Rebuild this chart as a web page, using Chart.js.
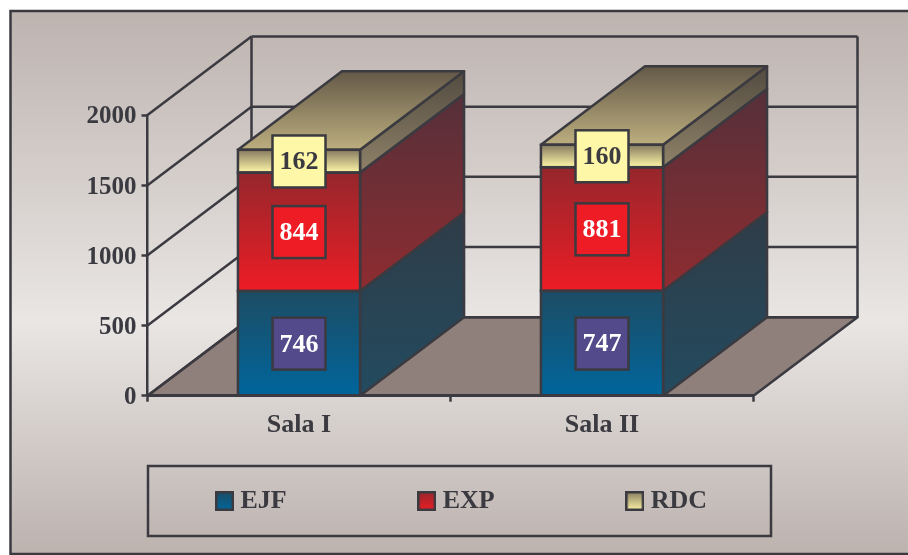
<!DOCTYPE html>
<html><head><meta charset="utf-8">
<style>html,body{margin:0;padding:0;background:#fff}canvas{display:block}</style>
<script src="https://cdn.jsdelivr.net/npm/chart.js@4/dist/chart.umd.js"></script>
</head><body><canvas id="c" width="908" height="555"></canvas>
<script>
const categories = ['Sala I', 'Sala II'];
const ejf = [746, 747];
const exp = [844, 881];
const rdc = [162, 160];
const yTicks = [0, 500, 1000, 1500, 2000];

const INK = '#3a3a40', FONT = '"Liberation Serif"', LW = 2.5, FS = 26;
const DX = 104, DY = -78.5;
const PAL = [
 {front:['#1d4c64','#00669c'], side:['#2f3c47','#234b60'], key:'#1d4c64', box:'#524a8a', text:'#ffffff'},
 {front:['#94272c','#ee1c25'], side:['#55303a','#8e2c30'], key:'#94272c', box:'#ee1c25', text:'#ffffff'},
 {front:['#857a5f','#fff7a8'], side:['#524b40','#8f8268'], key:'#857a5f', box:'#fff7a8', text:INK}
];
function grad(ctx, y0, y1, c){ const g = ctx.createLinearGradient(0,y0,0,y1); g.addColorStop(0,c[0]); g.addColorStop(1,c[1]); return g; }
function swatch(c){ const k=document.createElement('canvas'); k.width=19;k.height=20; const x=k.getContext('2d');
  x.fillStyle=grad(x,0,20,c); x.fillRect(0,0,19,20); x.strokeStyle=INK; x.lineWidth=2.5; x.strokeRect(1.25,1.25,16.5,17.5); return k; }
function poly(ctx, pts, fill){ ctx.beginPath(); pts.forEach((p,i)=>i?ctx.lineTo(p[0],p[1]):ctx.moveTo(p[0],p[1])); ctx.closePath();
  if(fill){ctx.fillStyle=fill;ctx.fill();} ctx.stroke(); }
function line(ctx,a,b,c,d){ ctx.beginPath();ctx.moveTo(a,b);ctx.lineTo(c,d);ctx.stroke(); }

const scene = {
 id:'scene',
 beforeLayout(chart){
  const L = chart.legend;
  if(L && !L._patched){ const f=L.fit; L.fit=function(){ f.call(this); this.height=0; }; L._patched=true; }
 },
 afterLayout(chart){
  const L = chart.legend; const pad = chart.options.plugins.legend.labels.padding;
  L.left = 221.5-pad; L.right = 908; L.top = 488-pad; L.bottom = 540; L.width=L.right-L.left; L.height=L.bottom-L.top;
 },
 beforeDraw(chart){
  const ctx = chart.ctx; ctx.save();
  const g = ctx.createLinearGradient(0,11,0,554);
  g.addColorStop(0,'#bdb3af'); g.addColorStop(0.57,'#e9e6e4'); g.addColorStop(1,'#bcb2ae');
  ctx.fillStyle=g; ctx.strokeStyle=INK; ctx.lineWidth=LW;
  ctx.fillRect(10.5,11,905,543); ctx.strokeRect(10.5,11,905,543);
  ctx.strokeRect(148,466,623,70);
  ctx.restore();
 },
 beforeDatasetsDraw(chart){
  const ctx = chart.ctx, x = chart.scales.x, y = chart.scales.y; const l=x.left, r=x.right, b=y.getPixelForValue(0), t=y.getPixelForValue(2000);
  ctx.save(); ctx.strokeStyle=INK; ctx.lineWidth=LW; ctx.lineJoin='round';
  poly(ctx,[[l,b],[r,b],[r+DX,b+DY],[l+DX,b+DY]],'#8f807b');
  yTicks.forEach(v=>{ const p=y.getPixelForValue(v);
    line(ctx,l,p,l+DX,p+DY); line(ctx,l+DX,p+DY,r+DX,p+DY); });
  line(ctx,l+DX,t+DY,l+DX,b+DY); line(ctx,r+DX,t+DY,r+DX,b+DY);
  categories.forEach((c,i)=>{
    const bar = chart.getDatasetMeta(0).data[i]; const hw = bar.width/2; const x1=bar.x+hw, x0=bar.x-hw;
    let sum=0;
    [ejf,exp,rdc].forEach((s,k)=>{
      const y0=y.getPixelForValue(sum); sum+=s[i]; const y1=y.getPixelForValue(sum);
      poly(ctx,[[x1,y0],[x1+DX,y0+DY],[x1+DX,y1+DY],[x1,y1]],grad(ctx,y1+DY,y0,PAL[k].side));
    });
    const top=y.getPixelForValue(sum);
    poly(ctx,[[x0,top],[x1,top],[x1+DX,top+DY],[x0+DX,top+DY]],grad(ctx,top+DY,top,['#645948','#bcae7e']));
  });
  ctx.restore();
 },
 afterDatasetsDraw(chart){
  const ctx = chart.ctx, y = chart.scales.y;
  ctx.save(); ctx.lineWidth=LW; ctx.strokeStyle=INK; ctx.font='bold '+FS+'px '+FONT; ctx.textAlign='center'; ctx.textBaseline='middle';
  categories.forEach((c,i)=>{
    [ejf,exp,rdc].forEach((s,k)=>{
      const bar=chart.getDatasetMeta(k).data[i];
      ctx.strokeRect(bar.x-bar.width/2,bar.y,bar.width,bar.base-bar.y);
    });
    let sum=0;
    [ejf,exp,rdc].forEach((s,k)=>{
      const bar=chart.getDatasetMeta(k).data[i];
      const mid=y.getPixelForValue(sum+s[i]/2); sum+=s[i];
      ctx.fillStyle=PAL[k].box; ctx.fillRect(bar.x-26.5,mid-25.7,53,52); ctx.strokeRect(bar.x-26.5,mid-25.7,53,52);
      ctx.fillStyle=PAL[k].text; ctx.fillText(String(s[i]),bar.x,mid+1.5);
    });
  });
  ctx.restore();
 }
};

function frontGradient(k){ return c=>{
  const ch=c.chart; if(!ch.scales.y||c.dataIndex===undefined) return PAL[k].front[1];
  const y=ch.scales.y; const all=[ejf,exp,rdc]; let base=0;
  for(let j=0;j<k;j++) base+=all[j][c.dataIndex];
  return grad(ch.ctx,y.getPixelForValue(base+all[k][c.dataIndex]),y.getPixelForValue(base),PAL[k].front);
};}
const mk=(label,data,k)=>({label,data,backgroundColor:frontGradient(k),borderWidth:0,barPercentage:0.403,categoryPercentage:1});
const catFont={family:FONT,size:FS,weight:'bold'};
const valFont={family:FONT,size:25,weight:'bold'};

new Chart(document.getElementById('c'),{
 type:'bar',
 data:{labels:categories,datasets:[mk('EJF',ejf,0),mk('EXP',exp,1),mk('RDC',rdc,2)]},
 plugins:[scene],
 options:{
  responsive:false,animation:false,
  layout:{padding:{left:0,top:115,right:154.5,bottom:0}},
  plugins:{
   tooltip:{enabled:false},
   legend:{position:'bottom',align:'start',labels:{
     padding:137,color:INK,font:{family:FONT,size:FS,weight:'bold'},usePointStyle:true,pointStyleWidth:6,boxHeight:20,
     generateLabels(ch){ return ch.data.datasets.map((d,i)=>({text:d.label,datasetIndex:i,pointStyle:swatch([PAL[i].key,PAL[i].front[1]]),fontColor:INK,lineWidth:0})); }
   }}
  },
  scales:{
   x:{stacked:true,afterFit(s){s.height=555-395.7;},border:{color:INK,width:LW,z:2},
      grid:{drawOnChartArea:false,drawTicks:true,tickLength:6,tickColor:INK,tickWidth:LW,offset:true,z:1},
      ticks:{color:INK,padding:8,z:2,font:catFont}},
   y:{stacked:true,min:0,max:2000,afterFit(s){s.width=147.5;},afterBuildTicks(s){s.ticks=yTicks.map(v=>({value:v}));},
      border:{color:INK,width:LW,z:2},
      grid:{drawOnChartArea:false,drawTicks:true,tickLength:6,tickColor:INK,tickWidth:LW,z:1},
      ticks:{color:INK,padding:5,z:2,labelOffset:2,font:valFont,callback:v=>String(v)}}
  }
 }
});
</script></body></html>
